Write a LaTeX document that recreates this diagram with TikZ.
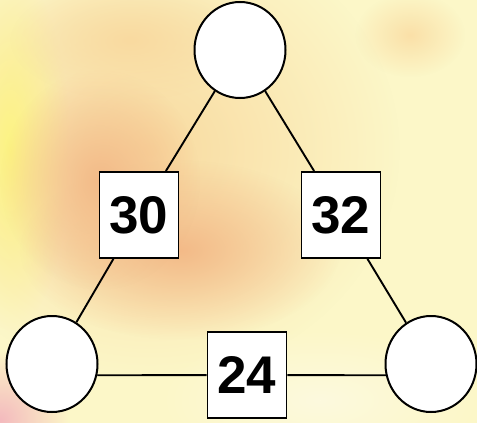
\documentclass[tikz,border=0pt]{standalone}
\usepackage{fontspec}
\setmainfont{Liberation Sans}
\usetikzlibrary{shapes.geometric,fadings}
\definecolor{paper}{RGB}{252,247,200}
\definecolor{lemon}{RGB}{253,244,130}
\definecolor{peach}{RGB}{249,218,160}
\definecolor{apricot}{RGB}{243,186,136}
\definecolor{rosy}{RGB}{244,186,190}
\tikzfading[name=soft blob,inner color=transparent!0,outer color=transparent!100]
\begin{document}
\begin{tikzpicture}[x=1pt,y=-1pt,
    corner/.style={ellipse,draw,line width=2pt,fill=white,minimum width=91pt,minimum height=96pt,inner sep=0pt},
    sumbox/.style={rectangle,draw,line width=1.8pt,fill=white,minimum width=79pt,minimum height=86pt,inner sep=0pt,
        font=\fontsize{53}{53}\selectfont\bfseries},
    edge/.style={line width=1.9pt}]
    \useasboundingbox (0,0) rectangle (477,423);
    %watercolour background
    \fill[paper] (0,0) rectangle (477,423);
    \fill[peach,path fading=soft blob] (150,150) ellipse (250 and 230);
    \fill[lemon,path fading=soft blob] (10,150) ellipse (60 and 180);
    \fill[apricot,path fading=soft blob] (180,250) ellipse (160 and 90);
    \fill[apricot,path fading=soft blob] (100,180) ellipse (100 and 110);
    \fill[peach,path fading=soft blob] (130,40) ellipse (120 and 60);
    \fill[rosy,path fading=soft blob] (0,420) ellipse (70 and 70);
    \fill[paper!60!white,path fading=soft blob] (320,400) ellipse (160 and 70);
    \fill[peach!80!paper,path fading=soft blob] (410,35) ellipse (55 and 42);
    %draw circles
    \node[corner] (top) at (240,50) {};
    \node[corner] (left) at (52,364) {};
    \node[corner] (right) at (431,364) {};
    %draw boxes
    \node[sumbox] (ab) at (139,215) {30};
    \node[sumbox] (ac) at (341,215) {32};
    \node[sumbox] (bc) at (247,375) {24};
    %draw lines
    \draw[edge] (top) -- (ab) -- (left);
    \draw[edge] (top) -- (ac) -- (right);
    \draw[edge] (left.-14) -- (bc) -- (right.194);
\end{tikzpicture}
\end{document}
